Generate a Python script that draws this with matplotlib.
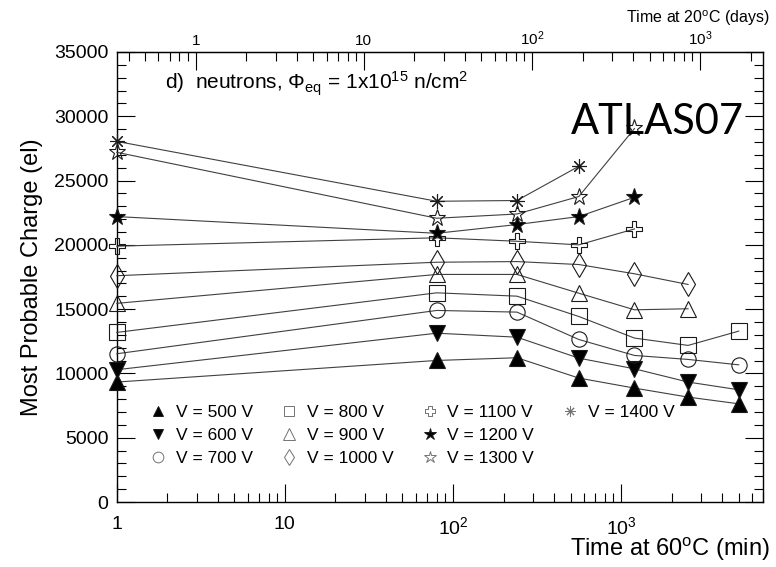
import numpy as np
import matplotlib
matplotlib.use("Agg")
import matplotlib.pyplot as plt
from matplotlib.path import Path
from matplotlib.lines import Line2D
from matplotlib.ticker import FixedLocator, FixedFormatter, MultipleLocator, LogLocator, NullFormatter

plt.rcParams['font.family'] = ['Liberation Sans', 'DejaVu Sans']
plt.rcParams['mathtext.fontset'] = 'custom'
plt.rcParams['mathtext.rm'] = 'Liberation Sans'
plt.rcParams['mathtext.it'] = 'Liberation Sans:italic'
plt.rcParams['mathtext.default'] = 'regular'

# ─── Data ─────────────────────────────────────────────────────────────────────
times = [1, 80, 240, 560, 1200, 2500, 5000]          # annealing time at 60C (min)
voltages = [500, 600, 700, 800, 900, 1000, 1100, 1200, 1300, 1400]

mpv_500  = [9330, 11010, 11220, 9640, 8860, 8160, 7640]
mpv_600  = [10290, 13130, 12820, 11190, 10360, 9330, 8730]
mpv_700  = [11530, 14900, 14770, 12640, 11400, 11090, 10670]
mpv_800  = [13190, 16270, 16010, 14430, 12750, 12180, 13290]
mpv_900  = [15450, 17700, 17700, 16240, 14950, 15030]
mpv_1000 = [17600, 18650, 18700, 18470, 17750, 16920]
mpv_1100 = [19900, 20550, 20280, 20000, 21240]
mpv_1200 = [22200, 20900, 21580, 22200, 23700]
mpv_1300 = [27200, 22070, 22400, 23760, 29050]
mpv_1400 = [28050, 23390, 23450, 26110]

series = [mpv_500, mpv_600, mpv_700, mpv_800, mpv_900,
          mpv_1000, mpv_1100, mpv_1200, mpv_1300, mpv_1400]

# 1 day at 20C expressed in minutes at 60C
DAY_IN_MIN60 = 2.95

# ─── Marker styles (ROOT-like) ────────────────────────────────────────────────
a = 0.32
open_cross = Path([(-a, 1), (a, 1), (a, a), (1, a), (1, -a), (a, -a), (a, -1),
                   (-a, -1), (-a, -a), (-1, -a), (-1, a), (-a, a), (-a, 1)],
                  closed=True)

styles = [
    dict(marker='^', mfc='black', ms=11),
    dict(marker='v', mfc='black', ms=11),
    dict(marker='o', mfc='none', ms=11),
    dict(marker='s', mfc='none', ms=11),
    dict(marker='^', mfc='none', ms=12),
    dict(marker='d', mfc='none', ms=12),
    dict(marker=open_cross, mfc='none', ms=11),
    dict(marker='*', mfc='black', ms=12.5),
    dict(marker='*', mfc='none', ms=12.5),
    dict(marker=(8, 2, 0), mfc='none', ms=10.5),
]

fig = plt.figure(figsize=(7.76, 5.67), dpi=100)
ax = fig.add_axes([0.1504, 0.1146, 0.8332, 0.7937])

for vals, st in zip(series, styles):
    ax.plot(times[:len(vals)], vals, color='0.25', lw=0.8,
            marker=st['marker'], ms=st['ms'], mfc=st['mfc'],
            mec='0.1', mew=0.8, zorder=3, clip_on=False)

ax.set_xscale('log')
ax.set_xlim(1, 7000)
ax.set_ylim(0, 35000)

ax.xaxis.set_major_locator(FixedLocator([1, 10, 100, 1000]))
ax.xaxis.set_major_formatter(FixedFormatter(['1', '10', '$10^{2}$', '$10^{3}$']))
ax.xaxis.set_minor_locator(LogLocator(base=10, subs=np.arange(2, 10)))
ax.xaxis.set_minor_formatter(NullFormatter())
ax.yaxis.set_major_locator(MultipleLocator(5000))
ax.yaxis.set_minor_locator(MultipleLocator(1000))

ax.tick_params(which='both', direction='in', top=False, right=True, labelsize=14, width=0.8)
ax.tick_params(which='major', length=13, pad=6)
ax.tick_params(which='minor', length=6.5)
ax.tick_params(axis='x', which='major', pad=10)
for s in ax.spines.values():
    s.set_linewidth(1.0)

# ─── Top axis: equivalent days at 20C ─────────────────────────────────────────
top = ax.secondary_xaxis('top', functions=(lambda m: m / DAY_IN_MIN60,
                                           lambda d: d * DAY_IN_MIN60))
top.xaxis.set_major_locator(FixedLocator([1, 10, 100, 1000]))
top.xaxis.set_major_formatter(FixedFormatter(['1', '10', '$10^{2}$', '$10^{3}$']))
top.xaxis.set_minor_locator(LogLocator(base=10, subs=np.arange(2, 10)))
top.xaxis.set_minor_formatter(NullFormatter())
top.tick_params(which='both', direction='in', labelsize=11, width=0.8)
top.tick_params(which='major', length=13, pad=3)
top.tick_params(which='minor', length=6.5)
fig.text(0.992, 0.968, 'Time at 20$^{o}$C (days)', ha='right', va='center', fontsize=11.5)

ax.set_ylabel('Most Probable Charge (el)', fontsize=17, labelpad=8)
fig.text(0.992, 0.031, 'Time at 60$^{o}$C (min)', ha='right', va='center', fontsize=17)

ax.text(0.075, 0.93, r'd)  neutrons, $\Phi_{eq}$ = 1x10$^{15}$ n/cm$^{2}$',
        transform=ax.transAxes, fontsize=15, va='center')
ax.text(0.836, 0.845, 'ATLAS07', transform=ax.transAxes, fontsize=30,
        family=['Lato', 'DejaVu Sans'], ha='center', va='center')

# ─── Legend (markers only), 3 rows x 4 columns ───────────────────────────────
handles = [Line2D([], [], ls='none', marker=st['marker'], ms=st['ms'] * 0.7,
                  mfc=st['mfc'], mec='0.1' if st['mfc'] == 'black' else '0.45',
                  mew=0.7) for st in styles]
labels = [f'V = {v} V' for v in voltages]
blank = Line2D([], [], ls='none')
handles += [blank, blank]
labels += ['', '']
ax.legend(handles, labels, ncol=4, loc='upper left', bbox_to_anchor=(0.04, 0.232),
          frameon=False, fontsize=12.5, handlelength=1.0, handletextpad=0.5,
          columnspacing=1.6, labelspacing=0.45, borderaxespad=0)

fig.savefig('out.png', dpi=100)
